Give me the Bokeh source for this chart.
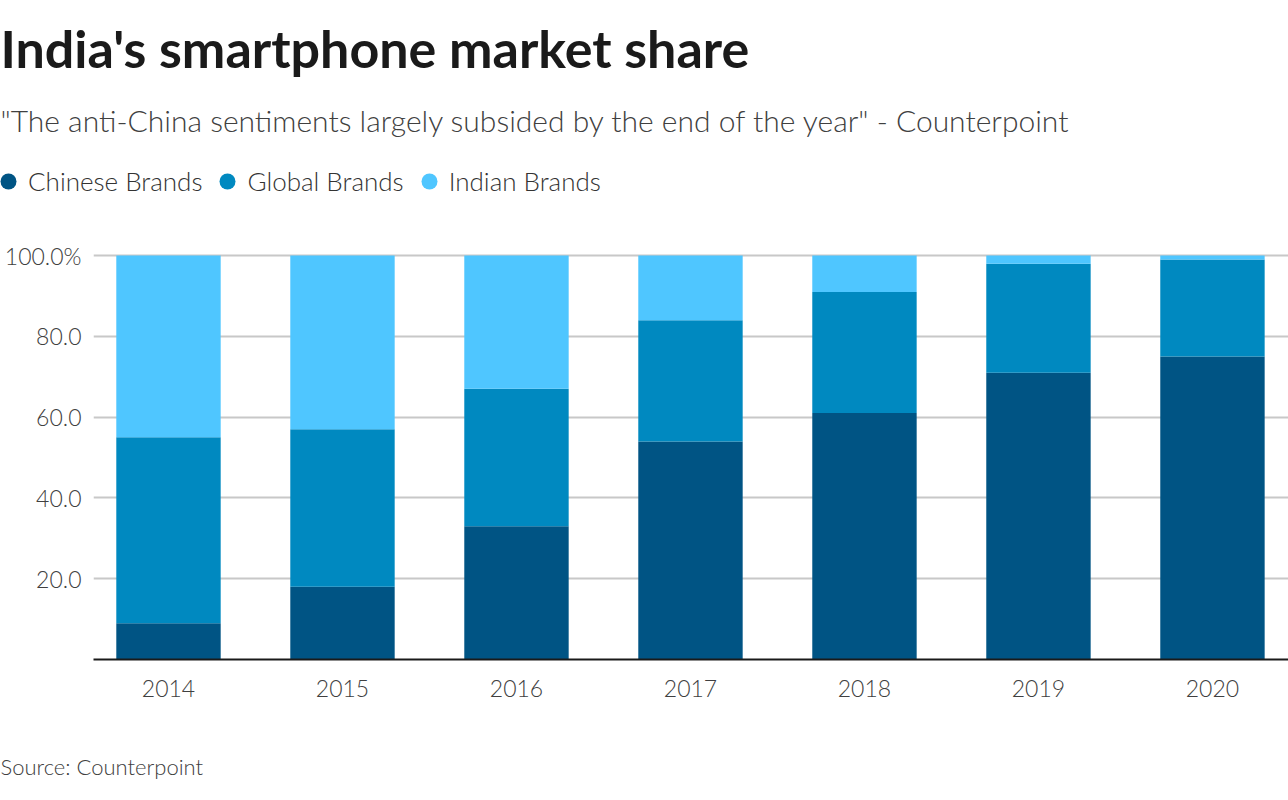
from bokeh.plotting import figure
from bokeh.models import Range1d, FixedTicker, Label, Legend, LegendItem
from bokeh.embed import file_html
from bokeh.resources import INLINE

years = ["2014", "2015", "2016", "2017", "2018", "2019", "2020"]
chinese = [9, 18, 33, 54, 61, 71, 75]
global_brands = [46, 39, 34, 30, 30, 27, 24]
indian = [45, 43, 33, 16, 9, 2, 1]
series_names = ["Chinese Brands", "Global Brands", "Indian Brands"]
colors = ["#005484", "#0089c0", "#4fc6ff"]
y_ticks = [20, 40, 60, 80, 100]
y_tick_labels = ["20.0", "40.0", "60.0", "80.0", "100.0%"]

title_text = "India's smartphone market share"
subtitle_text = "\"The anti-China sentiments largely subsided by the end of the year\" - Counterpoint"
source_text = "Source: Counterpoint"

LIGHT = "Lato Light"
W = 1288
HEAD_H, FOOT_H = 210, 60
CHART_H = 800 - HEAD_H - FOOT_H


def blank(height):
    f = figure(width=W, height=height, output_backend="svg", toolbar_location=None,
               x_range=Range1d(0, W), y_range=Range1d(height, 0),
               x_axis_type=None, y_axis_type=None, min_border=0)
    f.outline_line_color = None
    f.xgrid.grid_line_color = None
    f.ygrid.grid_line_color = None
    return f


# ---- header: title, subtitle, legend
head = blank(HEAD_H)
head.add_layout(Label(x=0, y=47, text=title_text, text_font="Lato",
                      text_font_style="bold", text_font_size="52px",
                      text_color="#1a1a1a", text_baseline="alphabetic"))
head.add_layout(Label(x=0, y=119, text=subtitle_text, text_font=LIGHT,
                      text_font_size="30px", text_color="#404040",
                      text_baseline="alphabetic"))
items = []
for name, c in zip(series_names, colors):
    # single off-canvas point: only its legend entry is visible
    r = head.scatter(x=[-500], y=[-500], marker="circle", color=c, line_color=None)
    items.append(LegendItem(label=name, renderers=[r], index=0))
legend = Legend(items=items, orientation="horizontal", location=(-12, 9),
                glyph_width=40, glyph_height=40, label_standoff=-8, spacing=5,
                padding=0, margin=0, border_line_color=None,
                background_fill_alpha=0, label_text_font=LIGHT,
                label_text_font_size="26px", label_text_color="#333333")
head.add_layout(legend, "center")

# ---- chart
xs = list(range(len(years)))
data = dict(x=xs, chinese=chinese, global_brands=global_brands, indian=indian)

p = figure(width=W, height=CHART_H, output_backend="svg", toolbar_location=None,
           x_range=Range1d(-0.431, 6.437), y_range=Range1d(0, 102),
           min_border_left=93, min_border_right=0, min_border_top=247 - HEAD_H,
           min_border_bottom=HEAD_H + CHART_H - 659)
p.outline_line_color = None

p.vbar_stack(["chinese", "global_brands", "indian"], x="x", width=0.6,
             color=colors, line_color=None, source=data)

p.yaxis.ticker = FixedTicker(ticks=y_ticks)
p.yaxis.major_label_overrides = {t: l for t, l in zip(y_ticks, y_tick_labels)}
p.yaxis.axis_line_color = None
p.yaxis.major_tick_line_color = None
p.yaxis.minor_tick_line_color = None
p.yaxis.major_label_standoff = 6
p.yaxis.major_label_text_font = LIGHT
p.yaxis.major_label_text_font_size = "23px"
p.yaxis.major_label_text_color = "#404040"

p.xaxis.ticker = FixedTicker(ticks=xs)
p.xaxis.major_label_overrides = {i: y for i, y in enumerate(years)}
p.xaxis.axis_line_color = "#1a1a1a"
p.xaxis.axis_line_width = 2
p.xaxis.major_tick_line_color = None
p.xaxis.minor_tick_line_color = None
p.xaxis.major_label_standoff = 14
p.xaxis.major_label_text_font = LIGHT
p.xaxis.major_label_text_font_size = "23px"
p.xaxis.major_label_text_color = "#404040"

p.xgrid.grid_line_color = None
p.ygrid.ticker = FixedTicker(ticks=y_ticks)
p.ygrid.grid_line_color = "#c8c8c8"
p.ygrid.grid_line_width = 2
p.ygrid.level = "underlay"

# ---- footer: source
foot = blank(FOOT_H)
foot.add_layout(Label(x=0, y=766 - (HEAD_H + CHART_H), text=source_text,
                      text_font=LIGHT, text_font_size="22px",
                      text_color="#404040", text_baseline="alphabetic"))

html = file_html([head, p, foot], INLINE)
html = html.replace("</head>",
                    "<style>html,body{margin:0;padding:0;} body>div{margin:0;padding:0;line-height:0;}</style></head>", 1)
open("out.html", "w").write(html)
